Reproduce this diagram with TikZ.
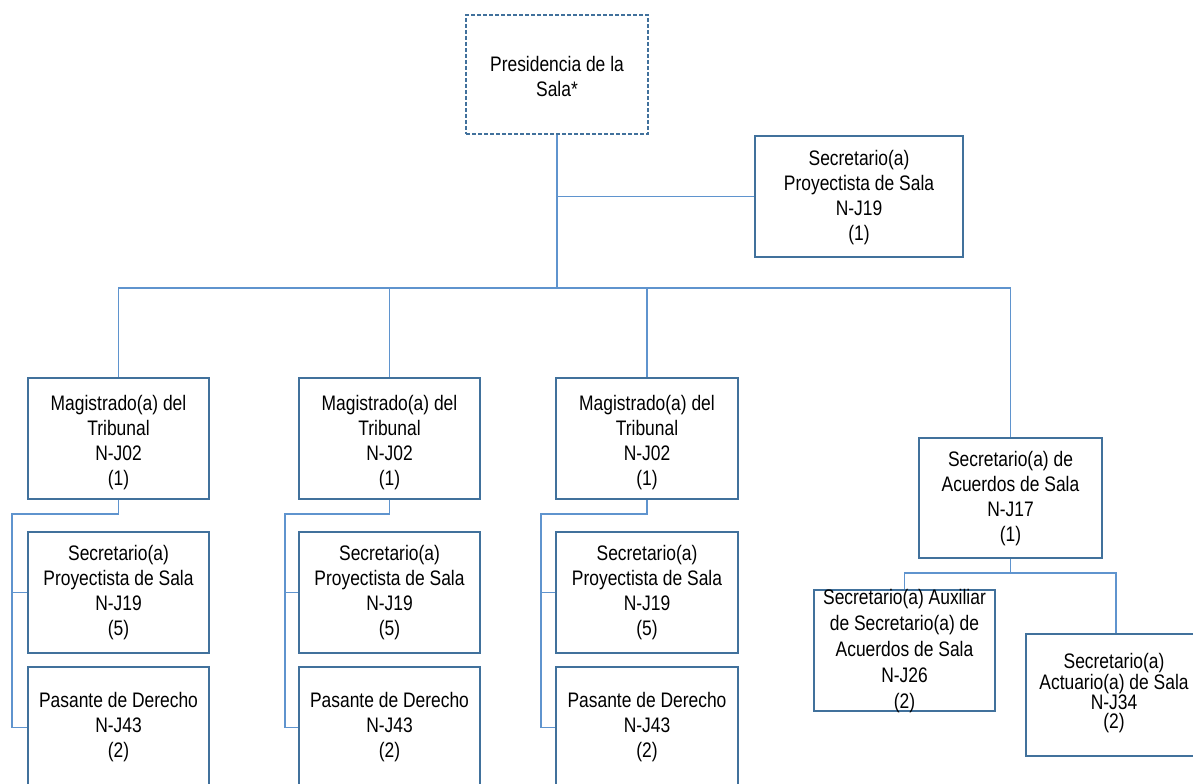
\documentclass[tikz,border=0pt]{standalone}
\usepackage{fontspec}
\setmainfont{Liberation Sans}[FakeStretch=0.83]
\definecolor{boxc}{HTML}{41719C}
\definecolor{linec}{HTML}{5F94CE}
\begin{document}
\begin{tikzpicture}[x=0.75pt,y=-0.75pt,
  box/.style={draw=boxc,line width=1.5pt,inner sep=0pt,minimum width=135.75pt,minimum height=90.75pt},
  txt/.style={align=center,inner sep=0pt,font=\fontsize{15.75pt}{18.75pt}\selectfont},
  conn/.style={draw=linec,line width=1.2pt}]
\useasboundingbox (0,0) rectangle (1193,784);
\clip (0,0) rectangle (1193,784);
% boxes
\node[box,dashed,dash pattern=on 3pt off 1.5pt,minimum width=136.5pt,minimum height=89.25pt] (pres) at (557,74.5) {};
\node[box,minimum width=156pt] (sp0) at (859,196.5) {};
\node[box] (mag1) at (118.5,438.5) {};
\node[box] (mag2) at (389.5,438.5) {};
\node[box,minimum width=136.5pt] (mag3) at (647,438.5) {};
\node[box] (sec1) at (118.5,592.5) {};
\node[box] (sec2) at (389.5,592.5) {};
\node[box,minimum width=136.5pt] (sec3) at (647,592.5) {};
\node[box] (pas1) at (118.5,727.5) {};
\node[box] (pas2) at (389.5,727.5) {};
\node[box,minimum width=136.5pt] (pas3) at (647,727.5) {};
\node[box,minimum width=137.25pt,minimum height=90pt] (acu) at (1010.5,498) {};
\node[box] (aux) at (904.5,650.5) {};
\node[box,minimum width=135pt,minimum height=91.5pt] (act) at (1116,695) {};
% texts
\node[txt] at (557,76) {Presidencia de la\\Sala*};
\node[txt] at (859,198) {Secretario(a)\\Proyectista de Sala\\N-J19\\(1)};
\foreach \n in {1,2,3}{
  \node[txt] at ([yshift=-3pt]mag\n) {Magistrado(a) del\\Tribunal\\N-J02\\(1)};
  \node[txt] at (sec\n) {Secretario(a)\\Proyectista de Sala\\N-J19\\(5)};
  \node[txt] at (pas\n) {Pasante de Derecho\\N-J43\\(2)};
}
\node[txt] at (1010.5,499) {Secretario(a) de\\Acuerdos de Sala\\N-J17\\(1)};
\node[txt,font=\fontsize{15.75pt}{19.5pt}\selectfont] at (904.5,651) {Secretario(a) Auxiliar\\de Secretario(a) de\\Acuerdos de Sala\\N-J26\\(2)};
\node[txt,font=\fontsize{15.75pt}{14pt}\selectfont] at (1114,693) {Secretario(a)\\Actuario(a) de Sala\\N-J34\\(2)};
% connectors
\coordinate (bus) at (557,288);
\coordinate (j) at (1010.5,573);
\draw[conn] (pres.south) -- (bus);
\draw[conn] (sp0.west) -- (sp0.west -| pres.south);
\draw[conn] (mag1.north) |- (bus) -| (acu.north);
\draw[conn] (mag2.north) -- (mag2.north |- bus);
\draw[conn] (mag3.north) -- (mag3.north |- bus);
\coordinate (s1) at (12,514);
\coordinate (s2) at (285,514);
\coordinate (s3) at (541,514);
\foreach \n in {1,2,3}{
  \draw[conn] (mag\n.south) |- (s\n) |- (pas\n.west);
  \draw[conn] (s\n |- sec\n.west) -- (sec\n.west);
}
\draw[conn] (acu.south) -- (j);
\draw[conn] (aux.north) |- (j) -| (act.north);
\end{tikzpicture}
\end{document}
